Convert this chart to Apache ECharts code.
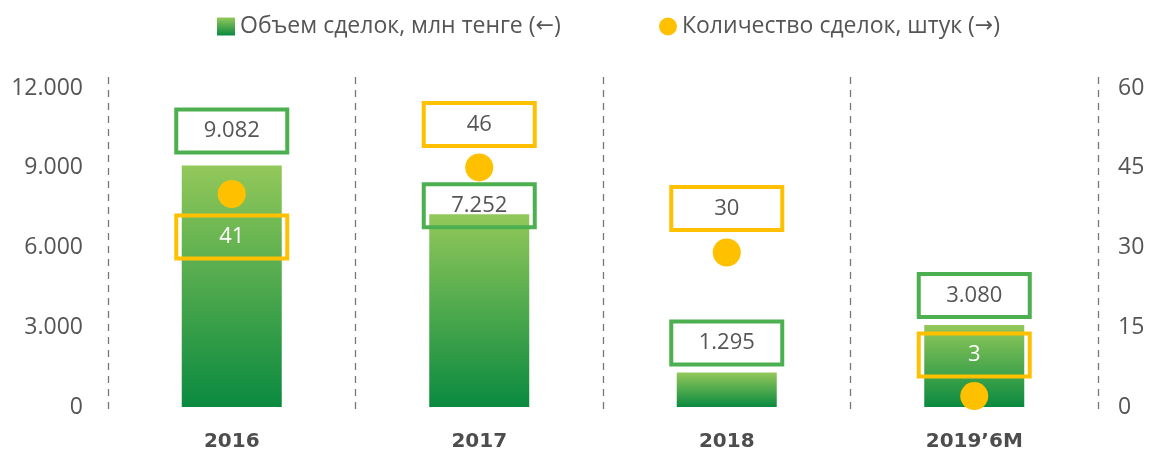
<!DOCTYPE html>
<html>
<head>
<meta charset="utf-8">
<script src="https://cdn.jsdelivr.net/npm/echarts@6/dist/echarts.min.js"></script>
<style>
html,body{margin:0;padding:0;background:#fff;}
#chart{width:1149px;height:452px;}
</style>
</head>
<body>
<div id="chart"></div>
<script>
// данные
var years = ['2016', '2017', '2018', '2019’6M'];
var volume = [9082, 7252, 1295, 3080];      // млн тенге
var deals = [41, 46, 30, 3];                // штук
var leftTicks = [0, 3000, 6000, 9000, 12000];
var rightTicks = [0, 15, 30, 45, 60];

// сдвиги подписей (стиль, не данные)
var volOffset = [[0, -5], [0, 21], [0, 0], [0, 0]];
var dealOffset = [[0, 43], [0, -43], [0, -44], [0, -41]];
var dealColor = ['#fff', '#555', '#555', '#fff'];

var GREEN = '#4CAF50', YELLOW = '#FFC000', GREY = '#555';
var txtFont = '"Open Sans", "Noto Sans", sans-serif';

function fmt(v){
	return String(v).replace(/\B(?=(\d{3})+(?!\d))/g, '.');
}

var barGrad = new echarts.graphic.LinearGradient(0, 0, 0, 1, [
	{offset: 0, color: '#93C85A'},
	{offset: 1, color: '#0A8A40'}
]);

var boxLabel = {
	width: 111, padding: [10, 0, 10, 0], lineHeight: 23, align: 'center',
	borderWidth: 2, fontSize: 22, fontFamily: txtFont, backgroundColor: 'transparent'
};

var volData = volume.map(function(v, i){
	return {value: v, label: {offset: volOffset[i]}};
});
var dealData = deals.map(function(v, i){
	return {value: v, label: {offset: dealOffset[i], color: dealColor[i]}};
});

var legendText = {
	color: GREY, fontSize: 23, fontFamily: txtFont,
	rich: {ar: {fontFamily: '"DejaVu Sans"', fontSize: 22, color: GREY}}
};

var myChart = echarts.init(document.getElementById('chart'));
var option = {
	animation: false,
	legend: [{
		data: [{name: 'Объем сделок, млн тенге (←)', icon: 'rect'}],
		left: 217, top: 15, padding: 0, itemWidth: 18, itemHeight: 18, itemGap: 5,
		textStyle: legendText,
		formatter: function(n){ return n.replace('←', '{ar|←}'); }
	}, {
		data: [{name: 'Количество сделок, штук (→)', icon: 'circle'}],
		left: 659, top: 15, padding: 0, itemWidth: 18, itemHeight: 18, itemGap: 5,
		textStyle: legendText,
		formatter: function(n){ return n.replace('→', '{ar|→}'); }
	}],
	grid: [
		{left: 108, right: 51, top: 88, bottom: 44},
		{left: 108, right: 51, top: 77, bottom: 37}
	],
	xAxis: [{
		type: 'category', data: years, gridIndex: 0,
		axisLine: {show: false}, axisTick: {show: false},
		axisLabel: {margin: 25, color: '#4d4d4d', fontSize: 20, fontWeight: 'bold',
			fontFamily: '"DejaVu Sans", sans-serif'}
	}, {
		// пунктирные разделители
		type: 'category', data: years, gridIndex: 1,
		axisLine: {show: false}, axisTick: {show: false}, axisLabel: {show: false},
		splitLine: {show: true, lineStyle: {color: '#777', width: 1.3, type: [7, 6]}}
	}],
	yAxis: [{
		type: 'value', min: leftTicks[0], max: leftTicks[leftTicks.length - 1], interval: 3000,
		axisLine: {show: false}, axisTick: {show: false}, splitLine: {show: false},
		axisLabel: {margin: 25, color: GREY, fontSize: 23, fontFamily: txtFont, formatter: fmt}
	}, {
		type: 'value', min: rightTicks[0], max: rightTicks[rightTicks.length - 1], interval: 15,
		axisLine: {show: false}, axisTick: {show: false}, splitLine: {show: false},
		axisLabel: {margin: 20, color: GREY, fontSize: 23, fontFamily: txtFont}
	}, {
		type: 'value', gridIndex: 1, show: false
	}],
	series: [{
		name: 'Объем сделок, млн тенге (←)',
		type: 'bar', data: volData, barWidth: 100, yAxisIndex: 0,
		itemStyle: {color: barGrad},
		label: Object.assign({show: true, position: 'top', distance: 8, color: GREY,
			borderColor: GREEN, formatter: function(p){ return fmt(p.value); }}, boxLabel)
	}, {
		name: 'Количество сделок, штук (→)',
		type: 'scatter', data: dealData, yAxisIndex: 1, z: 5,
		symbol: 'circle', symbolSize: 28, symbolOffset: [0, 5],
		itemStyle: {color: YELLOW, opacity: 1},
		label: Object.assign({show: true, position: 'inside',
			borderColor: YELLOW}, boxLabel)
	}]
};
myChart.setOption(option);
</script>
</body>
</html>
